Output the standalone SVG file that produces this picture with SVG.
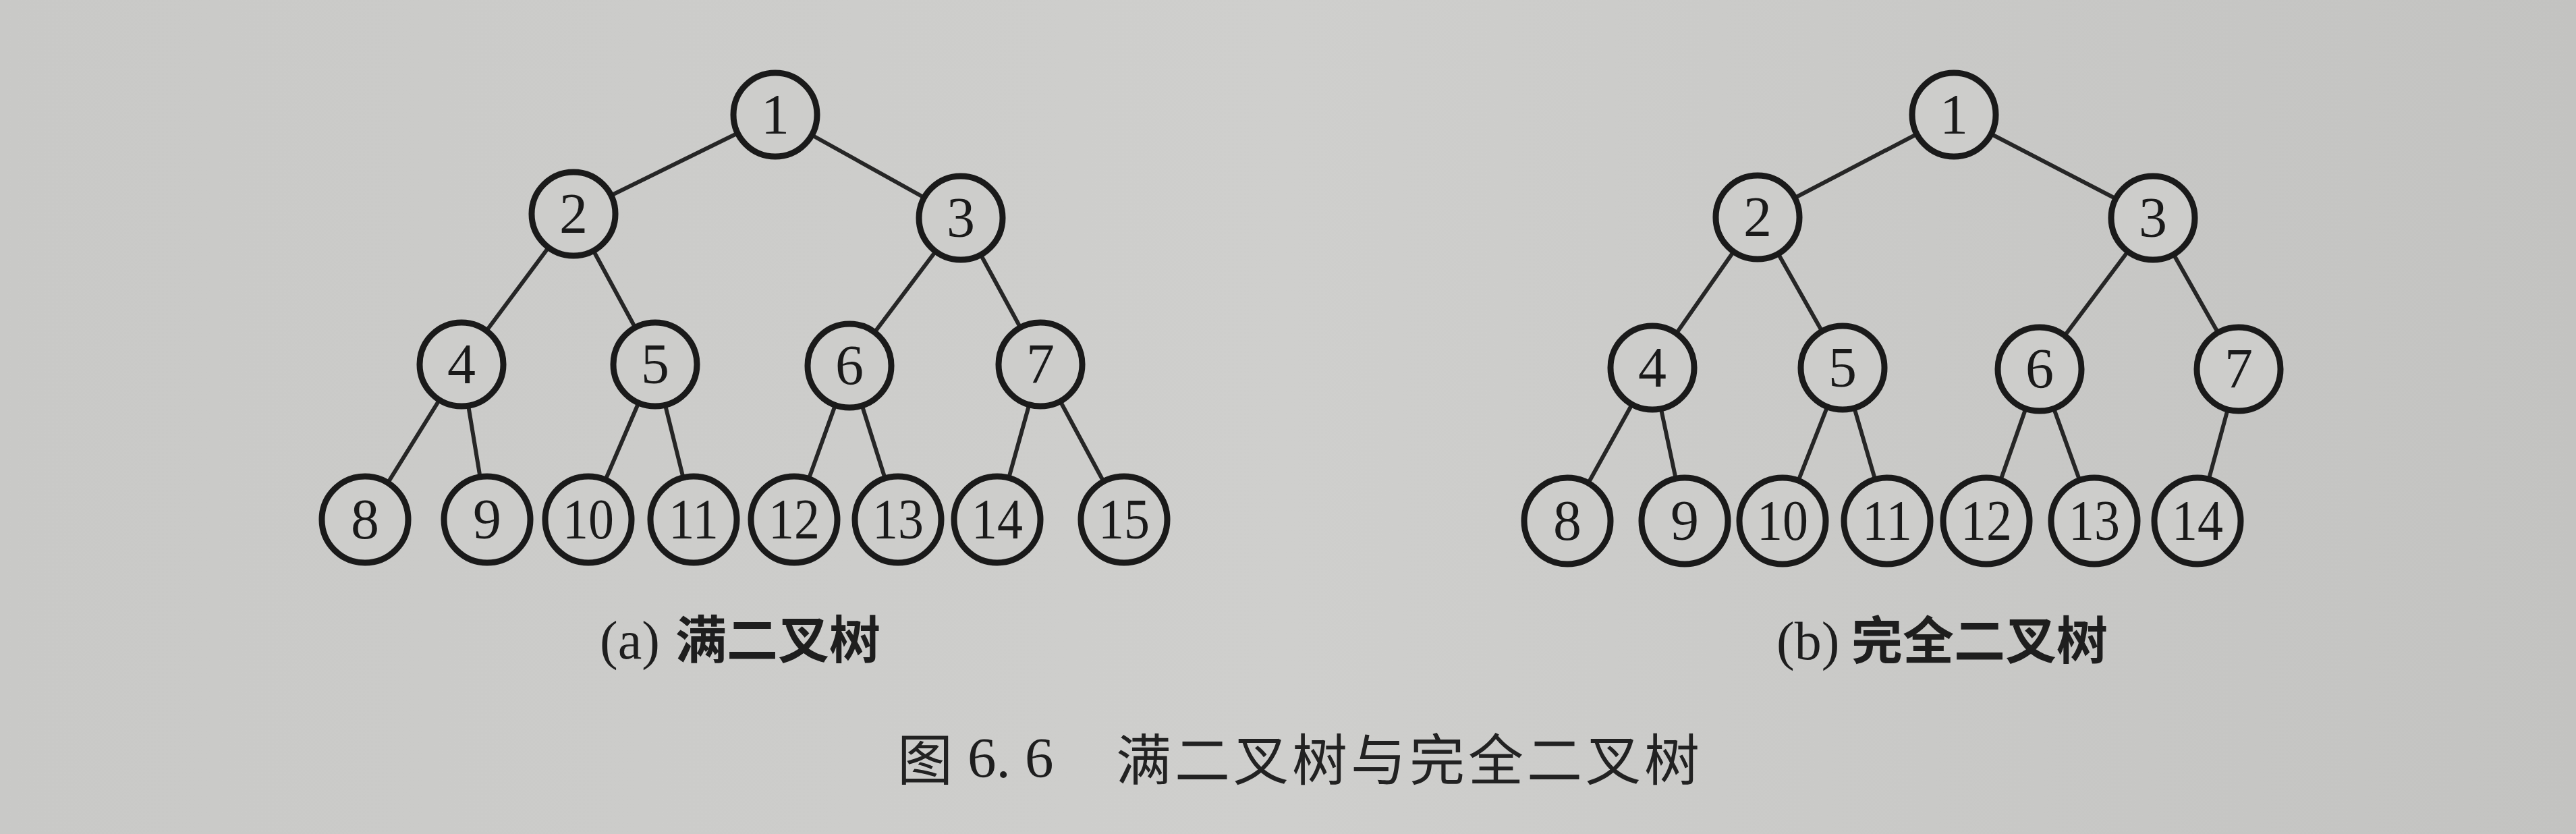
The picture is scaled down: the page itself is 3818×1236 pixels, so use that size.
<svg xmlns="http://www.w3.org/2000/svg" width="3818" height="1236" viewBox="0 0 3818 1236">
<defs>
<linearGradient id="paper" x1="0" y1="0" x2="1" y2="0">
<stop offset="0" stop-color="#c9c9c7"/>
<stop offset="0.5" stop-color="#cfcfcd"/>
<stop offset="1" stop-color="#c3c3c1"/>
</linearGradient>
<style>
.edge{stroke:#262626;stroke-width:6;stroke-linecap:round}
.node circle{fill:#cdcdcb;stroke:#1a1a1a;stroke-width:9}
.node text{font-family:"Liberation Serif","Times New Roman",serif;font-size:84px;fill:#1a1a1a;text-anchor:middle}
.sub{font-family:"Noto Sans CJK SC",sans-serif;font-weight:700;font-size:76px;fill:#1e1e1e}
.subl{font-family:"Liberation Serif",serif;font-size:80px;fill:#1e1e1e}
.cap{font-family:"Noto Sans CJK SC",sans-serif;font-weight:400;font-size:82px;fill:#222}
</style>
</defs>
<rect width="3818" height="1236" fill="url(#paper)"/>

<g id="connectors">
<!-- tree a -->
<line class="edge" x1="1149" y1="170" x2="850" y2="317"/>
<line class="edge" x1="1149" y1="170" x2="1424" y2="323"/>
<line class="edge" x1="850" y1="317" x2="684" y2="540"/>
<line class="edge" x1="850" y1="317" x2="971" y2="540"/>
<line class="edge" x1="1424" y1="323" x2="1259" y2="542"/>
<line class="edge" x1="1424" y1="323" x2="1542" y2="540"/>
<line class="edge" x1="684" y1="540" x2="541" y2="770"/>
<line class="edge" x1="684" y1="540" x2="722" y2="770"/>
<line class="edge" x1="971" y1="540" x2="872" y2="770"/>
<line class="edge" x1="971" y1="540" x2="1028" y2="770"/>
<line class="edge" x1="1259" y1="542" x2="1177" y2="770"/>
<line class="edge" x1="1259" y1="542" x2="1331" y2="770"/>
<line class="edge" x1="1542" y1="540" x2="1478" y2="770"/>
<line class="edge" x1="1542" y1="540" x2="1666" y2="770"/>
<!-- tree b -->
<line class="edge" x1="2896" y1="170" x2="2605" y2="322"/>
<line class="edge" x1="2896" y1="170" x2="3191" y2="323"/>
<line class="edge" x1="2605" y1="322" x2="2449" y2="545"/>
<line class="edge" x1="2605" y1="322" x2="2731" y2="545"/>
<line class="edge" x1="3191" y1="323" x2="3023" y2="547"/>
<line class="edge" x1="3191" y1="323" x2="3318" y2="547"/>
<line class="edge" x1="2449" y1="545" x2="2323" y2="772"/>
<line class="edge" x1="2449" y1="545" x2="2497" y2="772"/>
<line class="edge" x1="2731" y1="545" x2="2642" y2="772"/>
<line class="edge" x1="2731" y1="545" x2="2797" y2="772"/>
<line class="edge" x1="3023" y1="547" x2="2944" y2="772"/>
<line class="edge" x1="3023" y1="547" x2="3104" y2="772"/>
<line class="edge" x1="3318" y1="547" x2="3257" y2="772"/>
</g>

<!-- tree a nodes -->
<g id="a1" class="node"><circle cx="1149" cy="170" r="62"/><text x="1149" y="198">1</text></g>
<g id="a2" class="node"><circle cx="850" cy="317" r="62"/><text x="850" y="345">2</text></g>
<g id="a3" class="node"><circle cx="1424" cy="323" r="62"/><text x="1424" y="351">3</text></g>
<g id="a4" class="node"><circle cx="684" cy="540" r="62"/><text x="684" y="568">4</text></g>
<g id="a5" class="node"><circle cx="971" cy="540" r="62"/><text x="971" y="568">5</text></g>
<g id="a6" class="node"><circle cx="1259" cy="542" r="62"/><text x="1259" y="570">6</text></g>
<g id="a7" class="node"><circle cx="1542" cy="540" r="62"/><text x="1542" y="568">7</text></g>
<g id="a8" class="node"><circle cx="541" cy="770" r="64"/><text x="541" y="798">8</text></g>
<g id="a9" class="node"><circle cx="722" cy="770" r="64"/><text x="722" y="798">9</text></g>
<g id="a10" class="node"><circle cx="872" cy="770" r="64"/><text x="872" y="798" textLength="76" lengthAdjust="spacingAndGlyphs">10</text></g>
<g id="a11" class="node"><circle cx="1028" cy="770" r="64"/><text x="1028" y="798" textLength="74" lengthAdjust="spacingAndGlyphs">11</text></g>
<g id="a12" class="node"><circle cx="1177" cy="770" r="64"/><text x="1177" y="798" textLength="76" lengthAdjust="spacingAndGlyphs">12</text></g>
<g id="a13" class="node"><circle cx="1331" cy="770" r="64"/><text x="1331" y="798" textLength="76" lengthAdjust="spacingAndGlyphs">13</text></g>
<g id="a14" class="node"><circle cx="1478" cy="770" r="64"/><text x="1478" y="798" textLength="76" lengthAdjust="spacingAndGlyphs">14</text></g>
<g id="a15" class="node"><circle cx="1666" cy="770" r="64"/><text x="1666" y="798" textLength="76" lengthAdjust="spacingAndGlyphs">15</text></g>

<!-- tree b nodes -->
<g id="b1" class="node"><circle cx="2896" cy="170" r="62"/><text x="2896" y="198">1</text></g>
<g id="b2" class="node"><circle cx="2605" cy="322" r="62"/><text x="2605" y="350">2</text></g>
<g id="b3" class="node"><circle cx="3191" cy="323" r="62"/><text x="3191" y="351">3</text></g>
<g id="b4" class="node"><circle cx="2449" cy="545" r="62"/><text x="2449" y="573">4</text></g>
<g id="b5" class="node"><circle cx="2731" cy="545" r="62"/><text x="2731" y="573">5</text></g>
<g id="b6" class="node"><circle cx="3023" cy="547" r="62"/><text x="3023" y="575">6</text></g>
<g id="b7" class="node"><circle cx="3318" cy="547" r="62"/><text x="3318" y="575">7</text></g>
<g id="b8" class="node"><circle cx="2323" cy="772" r="64"/><text x="2323" y="800">8</text></g>
<g id="b9" class="node"><circle cx="2497" cy="772" r="64"/><text x="2497" y="800">9</text></g>
<g id="b10" class="node"><circle cx="2642" cy="772" r="64"/><text x="2642" y="800" textLength="76" lengthAdjust="spacingAndGlyphs">10</text></g>
<g id="b11" class="node"><circle cx="2797" cy="772" r="64"/><text x="2797" y="800" textLength="74" lengthAdjust="spacingAndGlyphs">11</text></g>
<g id="b12" class="node"><circle cx="2944" cy="772" r="64"/><text x="2944" y="800" textLength="76" lengthAdjust="spacingAndGlyphs">12</text></g>
<g id="b13" class="node"><circle cx="3104" cy="772" r="64"/><text x="3104" y="800" textLength="76" lengthAdjust="spacingAndGlyphs">13</text></g>
<g id="b14" class="node"><circle cx="3257" cy="772" r="64"/><text x="3257" y="800" textLength="76" lengthAdjust="spacingAndGlyphs">14</text></g>

<g id="captions">
<text class="subl" x="889" y="976">(a)</text>
<text class="sub" x="1001" y="976">满二叉树</text>
<text class="subl" x="2633" y="977">(b)</text>
<text class="sub" x="2744" y="977">完全二叉树</text>
<text class="cap" x="1330" y="1156">图</text>
<text class="subl" x="1434" y="1152" style="font-size:85px">6. 6</text>
<text class="cap" x="1654" y="1156" style="letter-spacing:5px">满二叉树与完全二叉树</text>
</g>
</svg>
